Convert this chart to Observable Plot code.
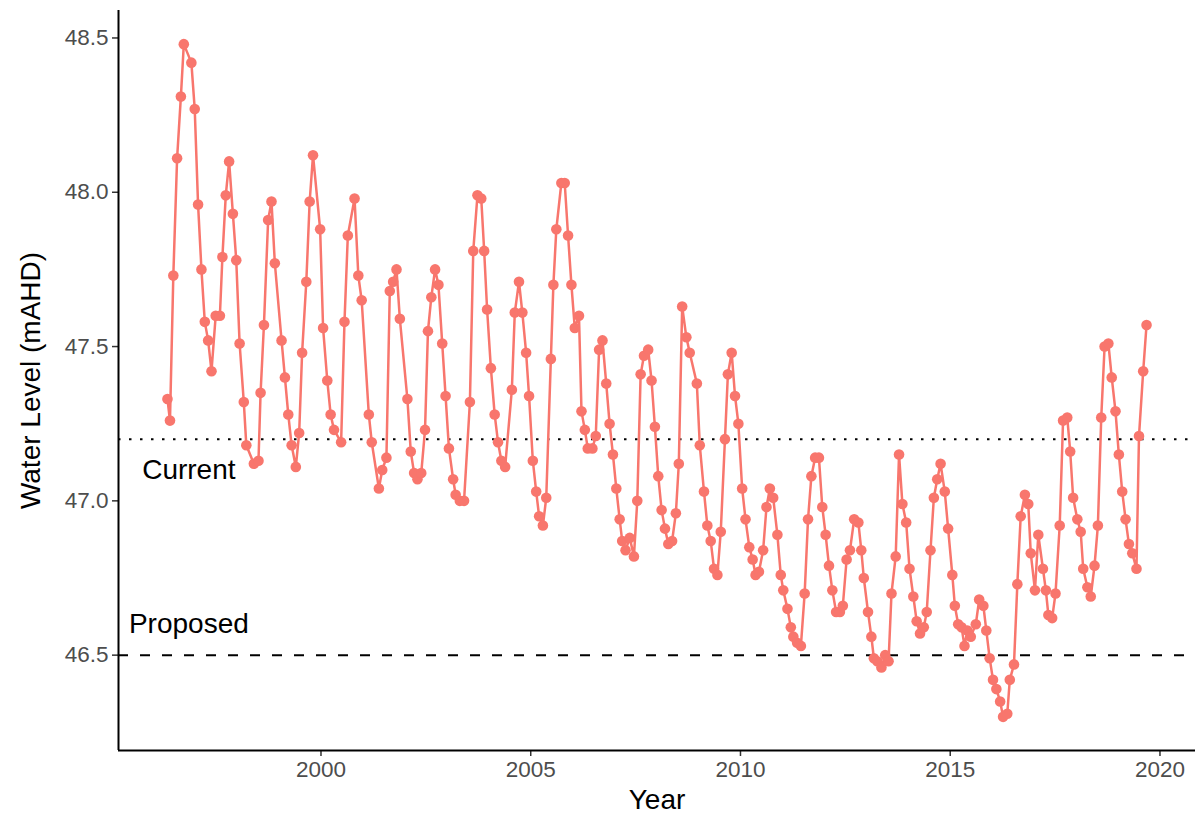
<!DOCTYPE html>
<html>
<head>
<meta charset="utf-8">
<script src="https://cdn.jsdelivr.net/npm/d3@7"></script>
<script src="https://cdn.jsdelivr.net/npm/@observablehq/plot@0.6"></script>
<style>
  html, body { margin: 0; padding: 0; background: #fff; }
  #chart { width: 1200px; height: 819px; }
</style>
</head>
<body>
<div id="chart"></div>
<script>
// Sampling dates (decimal years) of the bore water level readings
const years = [
  1996.34,1996.40,1996.48,1996.57,1996.66,1996.73,1996.91,1996.99,1997.07,1997.15,
  1997.23,1997.31,1997.39,1997.49,1997.59,1997.65,1997.73,1997.81,1997.90,1997.98,
  1998.06,1998.16,1998.22,1998.40,1998.51,1998.56,1998.64,1998.74,1998.82,1998.90,
  1999.06,1999.14,1999.22,1999.30,1999.40,1999.48,1999.55,1999.65,1999.73,1999.81,
  1999.98,2000.05,2000.15,2000.23,2000.31,2000.48,2000.56,2000.64,2000.80,2000.89,
  2000.97,2001.14,2001.21,2001.38,2001.46,2001.56,2001.64,2001.72,2001.80,2001.88,
  2002.06,2002.14,2002.22,2002.30,2002.39,2002.48,2002.55,2002.63,2002.72,2002.80,
  2002.89,2002.97,2003.05,2003.15,2003.21,2003.31,2003.41,2003.55,2003.63,2003.73,
  2003.82,2003.89,2003.96,2004.05,2004.14,2004.22,2004.30,2004.39,2004.55,2004.62,
  2004.72,2004.80,2004.89,2004.96,2005.05,2005.13,2005.20,2005.29,2005.37,2005.48,
  2005.54,2005.61,2005.73,2005.81,2005.89,2005.97,2006.05,2006.15,2006.21,2006.29,
  2006.36,2006.47,2006.55,2006.63,2006.71,2006.80,2006.88,2006.96,2007.04,2007.12,
  2007.18,2007.26,2007.36,2007.46,2007.54,2007.62,2007.70,2007.80,2007.88,2007.96,
  2008.04,2008.12,2008.20,2008.28,2008.37,2008.46,2008.53,2008.61,2008.71,2008.79,
  2008.96,2009.03,2009.13,2009.21,2009.29,2009.37,2009.45,2009.53,2009.63,2009.70,
  2009.79,2009.87,2009.95,2010.04,2010.12,2010.21,2010.29,2010.36,2010.44,2010.54,
  2010.62,2010.70,2010.78,2010.88,2010.96,2011.02,2011.12,2011.20,2011.26,2011.35,
  2011.44,2011.53,2011.61,2011.69,2011.78,2011.87,2011.95,2012.03,2012.11,2012.19,
  2012.28,2012.37,2012.44,2012.53,2012.61,2012.71,2012.81,2012.88,2012.94,2013.04,
  2013.12,2013.18,2013.26,2013.36,2013.45,2013.53,2013.60,2013.70,2013.78,2013.86,
  2013.95,2014.03,2014.12,2014.20,2014.28,2014.37,2014.44,2014.53,2014.61,2014.69,
  2014.77,2014.87,2014.95,2015.05,2015.11,2015.19,2015.27,2015.34,2015.41,2015.49,
  2015.61,2015.69,2015.79,2015.86,2015.94,2016.02,2016.10,2016.19,2016.26,2016.36,
  2016.42,2016.52,2016.60,2016.68,2016.78,2016.86,2016.92,2017.02,2017.10,2017.21,
  2017.28,2017.34,2017.43,2017.51,2017.61,2017.69,2017.79,2017.86,2017.93,2018.03,
  2018.11,2018.17,2018.27,2018.35,2018.44,2018.52,2018.60,2018.68,2018.77,2018.85,
  2018.94,2019.02,2019.10,2019.18,2019.26,2019.34,2019.44,2019.50,2019.60,2019.68
];

// Water level (m AHD) at each sampling date
const levels = [
  47.33,47.26,47.73,48.11,48.31,48.48,48.42,48.27,47.96,47.75,
  47.58,47.52,47.42,47.60,47.60,47.79,47.99,48.10,47.93,47.78,
  47.51,47.32,47.18,47.12,47.13,47.35,47.57,47.91,47.97,47.77,
  47.52,47.40,47.28,47.18,47.11,47.22,47.48,47.71,47.97,48.12,
  47.88,47.56,47.39,47.28,47.23,47.19,47.58,47.86,47.98,47.73,
  47.65,47.28,47.19,47.04,47.10,47.14,47.68,47.71,47.75,47.59,
  47.33,47.16,47.09,47.07,47.09,47.23,47.55,47.66,47.75,47.70,
  47.51,47.34,47.17,47.07,47.02,47.00,47.00,47.32,47.81,47.99,
  47.98,47.81,47.62,47.43,47.28,47.19,47.13,47.11,47.36,47.61,
  47.71,47.61,47.48,47.34,47.13,47.03,46.95,46.92,47.01,47.46,
  47.70,47.88,48.03,48.03,47.86,47.70,47.56,47.60,47.29,47.23,
  47.17,47.17,47.21,47.49,47.52,47.38,47.25,47.15,47.04,46.94,
  46.87,46.84,46.88,46.82,47.00,47.41,47.47,47.49,47.39,47.24,
  47.08,46.97,46.91,46.86,46.87,46.96,47.12,47.63,47.53,47.48,
  47.38,47.18,47.03,46.92,46.87,46.78,46.76,46.90,47.20,47.41,
  47.48,47.34,47.25,47.04,46.94,46.85,46.81,46.76,46.77,46.84,
  46.98,47.04,47.01,46.89,46.76,46.71,46.65,46.59,46.56,46.54,
  46.53,46.70,46.94,47.08,47.14,47.14,46.98,46.89,46.79,46.71,
  46.64,46.64,46.66,46.81,46.84,46.94,46.93,46.84,46.75,46.64,
  46.56,46.49,46.48,46.46,46.50,46.48,46.70,46.82,47.15,46.99,
  46.93,46.78,46.69,46.61,46.57,46.59,46.64,46.84,47.01,47.07,
  47.12,47.03,46.91,46.76,46.66,46.60,46.59,46.53,46.58,46.56,
  46.60,46.68,46.66,46.58,46.49,46.42,46.39,46.35,46.30,46.31,
  46.42,46.47,46.73,46.95,47.02,46.99,46.83,46.71,46.89,46.78,
  46.71,46.63,46.62,46.70,46.92,47.26,47.27,47.16,47.01,46.94,
  46.90,46.78,46.72,46.69,46.79,46.92,47.27,47.50,47.51,47.40,
  47.29,47.15,47.03,46.94,46.86,46.83,46.78,47.21,47.42,47.57
];

// Trigger levels drawn as horizontal reference lines
const currentLevel = 47.2;
const proposedLevel = 46.5;
const currentLabel = "Current";
const proposedLabel = "Proposed";

// Axis ticks and titles
const xTicks = [2000, 2005, 2010, 2015, 2020];
const yTicks = [46.5, 47.0, 47.5, 48.0, 48.5];
const xTitle = "Year";
const yTitle = "Water Level (mAHD)";

const series = years.map((year, i) => ({year, level: levels[i]}));

// Pad the data extent by 5% on each side
function padded(values) {
  const [lo, hi] = d3.extent(values);
  const pad = (hi - lo) * 0.05;
  return [lo - pad, hi + pad];
}
const xDomain = padded(years);
const yDomain = padded(levels);

const salmon = "#F8766D";

const chart = Plot.plot({
  width: 1200,
  height: 819,
  marginLeft: 118,
  marginRight: 5,
  marginTop: 10,
  marginBottom: 69,
  style: {fontFamily: "'Liberation Sans', Arial, Helvetica, sans-serif", background: "#fff"},
  x: {domain: xDomain},
  y: {domain: yDomain},
  marks: [
    // reference levels
    Plot.ruleY([currentLevel], {stroke: "#000", strokeWidth: 2, strokeDasharray: "2.5,8.5"}),
    Plot.ruleY([proposedLevel], {stroke: "#000", strokeWidth: 2, strokeDasharray: "10,12"}),
    Plot.text([currentLabel], {x: 1996.85, y: 47.10, fontSize: 28, fill: "#000", textAnchor: "middle"}),
    Plot.text([proposedLabel], {x: 1996.85, y: 46.60, fontSize: 28, fill: "#000", textAnchor: "middle"}),
    // water level series
    Plot.line(series, {x: "year", y: "level", stroke: salmon, strokeWidth: 2.5}),
    Plot.dot(series, {x: "year", y: "level", r: 5.3, fill: salmon, stroke: "none"}),
    // axes
    Plot.axisX(xTicks, {tickSize: 6, tickPadding: 5, fontSize: 22.5, fill: "#4d4d4d", stroke: "#333", strokeWidth: 1.5, tickFormat: d => String(d), label: null}),
    Plot.axisY(yTicks, {tickSize: 6, tickPadding: 4, fontSize: 22.5, fill: "#4d4d4d", stroke: "#333", strokeWidth: 1.5, tickFormat: d => d.toFixed(1), label: null}),
    Plot.ruleX([xDomain[0]], {stroke: "#000", strokeWidth: 2}),
    Plot.ruleY([yDomain[0]], {stroke: "#000", strokeWidth: 2}),
    // axis titles
    Plot.text([xTitle], {frameAnchor: "bottom", textAnchor: "middle", dy: 58, fontSize: 28, fill: "#000"}),
    Plot.text([yTitle], {frameAnchor: "left", textAnchor: "middle", rotate: -90, dx: -87, fontSize: 28, fill: "#000"})
  ]
});

document.getElementById("chart").appendChild(chart);
</script>
</body>
</html>
